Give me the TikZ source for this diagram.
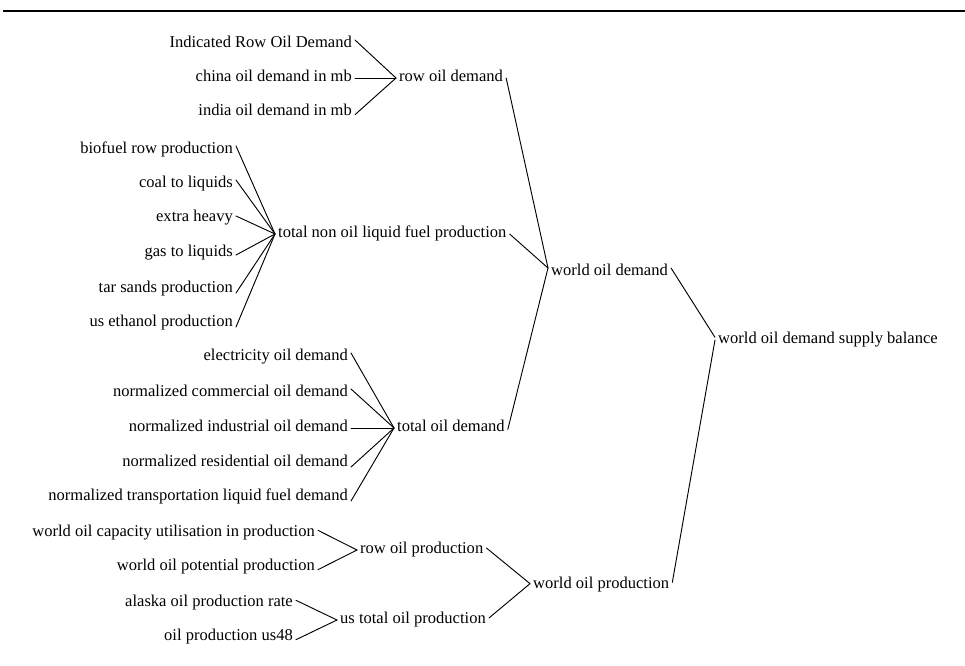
\documentclass[tikz,border=0pt]{standalone}
\usepackage{fontspec}
\setmainfont{Liberation Serif}
\begin{document}
\begin{tikzpicture}[x=0.75pt,y=-0.75pt,
  lbl/.style={inner xsep=2.2pt, inner ysep=0pt, text height=0.68em, text depth=0.22em, font=\fontsize{12.4}{14}\selectfont},
  src/.style={lbl, anchor=east},
  tgt/.style={lbl, anchor=west},
  link/.style={line width=0.7pt, line cap=round},
  rule/.style={line width=1.5pt}]
\useasboundingbox (0,0) rectangle (965,665);
\coordinate (ruleL) at (3,11);
\coordinate (ruleR) at (965,11);
\draw[rule] (ruleL) -- (ruleR);

% group 1
\node[src] (ind) at (355,44) {Indicated Row Oil Demand};
\node[src] (china) at (355,78) {china oil demand in mb};
\node[src] (india) at (355,112) {india oil demand in mb};
\node[tgt] (rowd) at (396,78) {row oil demand};

% group 2
\node[src] (bio) at (236,150) {biofuel row production};
\node[src] (coal) at (236,184) {coal to liquids};
\node[src] (extra) at (236,218) {extra heavy};
\node[src] (gas) at (236,253) {gas to liquids};
\node[src] (tar) at (236,289) {tar sands production};
\node[src] (useth) at (236,323) {us ethanol production};
\node[tgt] (tnl) at (275,234) {total non oil liquid fuel production};

% group 3
\node[src] (elec) at (351,357) {electricity oil demand};
\node[src] (comm) at (351,393) {normalized commercial oil demand};
\node[src] (indu) at (351,428) {normalized industrial oil demand};
\node[src] (resi) at (351,463) {normalized residential oil demand};
\node[src] (trans) at (351,497) {normalized transportation liquid fuel demand};
\node[tgt] (tod) at (394,428) {total oil demand};

% group 4
\node[src] (cap) at (318,533) {world oil capacity utilisation in production};
\node[src] (pot) at (318,567) {world oil potential production};
\node[tgt] (rowp) at (357,550) {row oil production};
\node[src] (alaska) at (296,603) {alaska oil production rate};
\node[src] (us48) at (296,637) {oil production us48};
\node[tgt] (ustot) at (337,620) {us total oil production};
\node[tgt] (wop) at (530,585) {world oil production};

\node[tgt] (wod) at (548,272) {world oil demand};
\node[tgt] (bal) at (715,340) {world oil demand supply balance};

% links group 1
\draw[link] ([yshift=3pt]ind.east) -- (rowd.west);
\draw[link] (china.east) -- (rowd.west);
\draw[link] ([yshift=-2pt]india.east) -- (rowd.west);

% links group 2
\draw[link] ([yshift=3pt]bio.east) -- (tnl.west);
\draw[link] ([yshift=3pt]coal.east) -- (tnl.west);
\draw[link] ([yshift=1.5pt]extra.east) -- (tnl.west);
\draw[link] ([yshift=-1.5pt]gas.east) -- (tnl.west);
\draw[link] ([yshift=-3pt]tar.east) -- (tnl.west);
\draw[link] ([yshift=-3pt]useth.east) -- (tnl.west);

% links group 3
\draw[link] ([yshift=3pt]elec.east) -- (tod.west);
\draw[link] ([yshift=3pt]comm.east) -- (tod.west);
\draw[link] (indu.east) -- (tod.west);
\draw[link] ([yshift=-3pt]resi.east) -- (tod.west);
\draw[link] ([yshift=-3pt]trans.east) -- (tod.west);

% links group 4
\draw[link] ([yshift=2pt]cap.east) -- (rowp.west);
\draw[link] ([yshift=-2pt]pot.east) -- (rowp.west);
\draw[link] ([yshift=2pt]alaska.east) -- (ustot.west);
\draw[link] ([yshift=-2pt]us48.east) -- (ustot.west);
\draw[link] ([yshift=1.5pt]rowp.east) -- ([yshift=1pt]wop.west);
\draw[link] ([yshift=1.5pt]ustot.east) -- ([yshift=1pt]wop.west);

% links to world oil demand
\draw[link] (rowd.east) -- ([yshift=3pt]wod.west);
\draw[link] (tnl.east) -- ([yshift=3pt]wod.west);
\draw[link] ([yshift=-1pt]tod.east) -- ([yshift=3pt]wod.west);

% links to balance
\draw[link] ([yshift=3pt]wod.east) -- ([yshift=2pt]bal.west);
\draw[link] ([yshift=2pt]wop.east) -- (bal.west);
\end{tikzpicture}
\end{document}
